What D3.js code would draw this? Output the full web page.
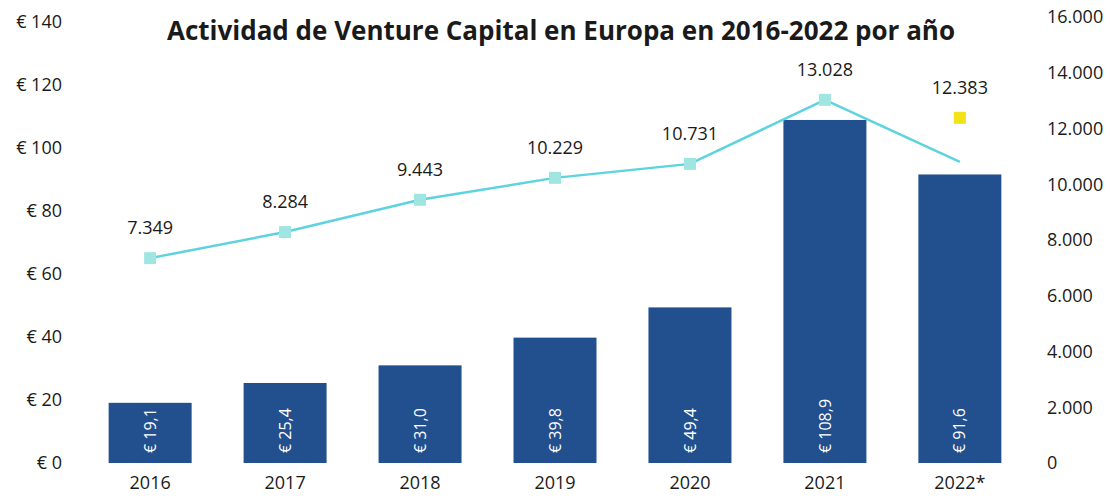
<!DOCTYPE html>
<html>
<head>
<meta charset="utf-8">
<script src="https://cdn.jsdelivr.net/npm/d3@7"></script>
<style>
  body { margin: 0; background: #fff; }
  svg text { font-family: "Open Sans", "Noto Sans", sans-serif; fill: #1a1a1a; }
</style>
</head>
<body>
<div id="chart"></div>
<script>
// data
const years = ["2016", "2017", "2018", "2019", "2020", "2021", "2022*"];
const invested = [19.1, 25.4, 31.0, 39.8, 49.4, 108.9, 91.6];       // € bn, bars
const deals = [7349, 8284, 9443, 10229, 10731, 13028, 12383];      // markers
const dealsLine = [7349, 8284, 9443, 10229, 10731, 13028, 10800];  // line as drawn
const leftTicks = [0, 20, 40, 60, 80, 100, 120, 140];
const rightTicks = [0, 2000, 4000, 6000, 8000, 10000, 12000, 14000, 16000];

const width = 1110, height = 501;

let svg = d3.select("#chart").append("svg")
    .attr("width", width)
    .attr("height", height);

let x = d3.scaleBand()
    .domain(years)
    .range([83, 1027])
    .paddingInner(0.385)
    .paddingOuter(0.19);

let yLeft = d3.scaleLinear().domain([0, 140]).range([463, 22]);
let yRight = d3.scaleLinear().domain([0, 16000]).range([463, 17]);

const esLocale = d3.formatLocale({decimal: ",", thousands: ".", grouping: [3], currency: ["€ ", ""]});
const fmtDeals = esLocale.format(",d");
const fmtBar = esLocale.format("$.1f");

// title
svg.append("text")
    .attr("x", 561)
    .attr("y", 40)
    .attr("text-anchor", "middle")
    .style("font-size", "26px")
    .style("font-weight", "bold")
    .text("Actividad de Venture Capital en Europa en 2016-2022 por año");

// left axis
let leftAxis = svg.append("g")
    .attr("transform", "translate(62,0)")
    .call(d3.axisLeft(yLeft).tickValues(leftTicks).tickSize(0).tickPadding(0)
        .tickFormat(d => "€ " + d));
leftAxis.select(".domain").remove();
leftAxis.selectAll("text").style("font-size", "18px").style("fill", "#1a1a1a");

// right axis
let rightAxis = svg.append("g")
    .attr("transform", "translate(1047,0)")
    .call(d3.axisRight(yRight).tickValues(rightTicks).tickSize(0).tickPadding(0)
        .tickFormat(fmtDeals));
rightAxis.select(".domain").remove();
rightAxis.selectAll("text").style("font-size", "18px").style("fill", "#1a1a1a");

// x labels
let xAxis = svg.append("g")
    .attr("transform", "translate(0,470)")
    .call(d3.axisBottom(x).tickSize(0).tickPadding(0));
xAxis.select(".domain").remove();
xAxis.selectAll("text").style("font-size", "18px").style("fill", "#1a1a1a")
    .attr("dy", "1.05em");

// bars
svg.selectAll(".bar")
    .data(years)
    .enter()
    .append("rect")
    .attr("class", "bar")
    .attr("x", d => x(d))
    .attr("width", x.bandwidth())
    .attr("y", (d, i) => yLeft(invested[i]))
    .attr("height", (d, i) => yLeft(0) - yLeft(invested[i]))
    .style("fill", "#22508f");

// bar labels
svg.selectAll(".barLabel")
    .data(years)
    .enter()
    .append("text")
    .attr("class", "barLabel")
    .attr("transform", d => "translate(" + (x(d) + x.bandwidth() / 2) + "," + (yLeft(0) - 10) + ") rotate(-90)")
    .attr("dy", "0.35em")
    .attr("text-anchor", "start")
    .style("font-size", "16px")
    .style("fill", "#ffffff")
    .text((d, i) => fmtBar(invested[i]));

// line
let line = d3.line()
    .x((d, i) => x(years[i]) + x.bandwidth() / 2)
    .y(d => yRight(d));

svg.append("path")
    .datum(dealsLine)
    .attr("d", line)
    .attr("fill", "none")
    .attr("stroke", "#5cd3df")
    .attr("stroke-width", 2.5);

// markers
const m = 12;
svg.selectAll(".marker")
    .data(deals)
    .enter()
    .append("rect")
    .attr("class", "marker")
    .attr("x", (d, i) => x(years[i]) + x.bandwidth() / 2 - m / 2)
    .attr("y", d => yRight(d) - m / 2)
    .attr("width", m)
    .attr("height", m)
    .style("fill", (d, i) => i === deals.length - 1 ? "#f2e21a" : "#9fe6e2");

// marker labels
svg.selectAll(".dealLabel")
    .data(deals)
    .enter()
    .append("text")
    .attr("class", "dealLabel")
    .attr("x", (d, i) => x(years[i]) + x.bandwidth() / 2)
    .attr("y", d => yRight(d) - 24)
    .attr("text-anchor", "middle")
    .style("font-size", "18px")
    .text(d => fmtDeals(d));
</script>
</body>
</html>
